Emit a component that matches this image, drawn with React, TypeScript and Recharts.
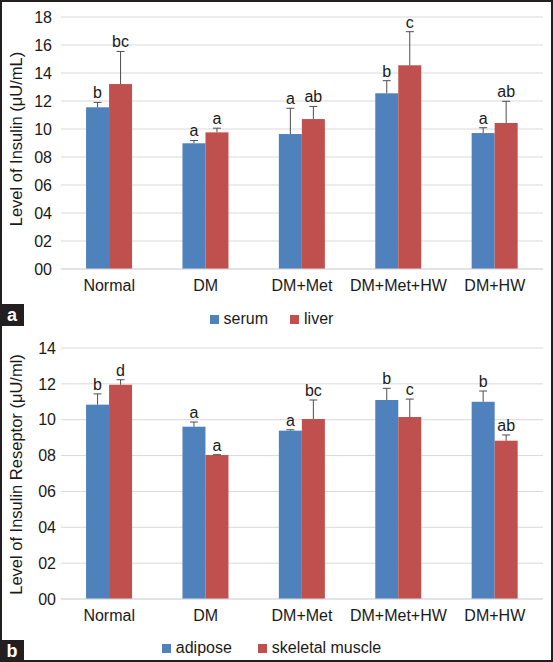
import { BarChart, Bar, XAxis, YAxis, CartesianGrid, Legend, Label } from "recharts";

const groups = ["Normal", "DM", "DM+Met", "DM+Met+HW", "DM+HW"];

// panel a: insulin level
const serum = [11.55, 8.98, 9.64, 12.55, 9.71];
const serumErr = [0.35, 0.2, 1.84, 0.9, 0.38];
const serumSig = ["b", "a", "a", "b", "a"];
const liver = [13.21, 9.76, 10.71, 14.55, 10.43];
const liverErr = [2.33, 0.3, 0.9, 2.4, 1.55];
const liverSig = ["bc", "a", "ab", "c", "ab"];
const insulinTicks = [0, 2, 4, 6, 8, 10, 12, 14, 16, 18];

// panel b: insulin receptor
const adipose = [10.84, 9.61, 9.39, 11.1, 11.0];
const adiposeErr = [0.6, 0.26, 0.05, 0.65, 0.6];
const adiposeSig = ["b", "a", "a", "b", "b"];
const muscle = [11.95, 8.03, 10.04, 10.15, 8.83];
const muscleErr = [0.28, 0.02, 1.06, 1.0, 0.32];
const muscleSig = ["d", "a", "bc", "c", "ab"];
const receptorTicks = [0, 2, 4, 6, 8, 10, 12, 14];

const BLUE = "#4f81bd";
const RED = "#c0504d";
const FONT = '"Liberation Sans", Arial, sans-serif';

type Series = { key: string; name: string; color: string; values: number[]; errs: number[]; sig: string[] };

const insulinSeries: Series[] = [
  { key: "serum", name: "serum", color: BLUE, values: serum, errs: serumErr, sig: serumSig },
  { key: "liver", name: "liver", color: RED, values: liver, errs: liverErr, sig: liverSig },
];
const receptorSeries: Series[] = [
  { key: "adipose", name: "adipose", color: BLUE, values: adipose, errs: adiposeErr, sig: adiposeSig },
  { key: "muscle", name: "skeletal muscle", color: RED, values: muscle, errs: muscleErr, sig: muscleSig },
];

function buildRows(series: Series[]) {
  return groups.map((g, i) => {
    const row: any = { group: g };
    series.forEach((s) => {
      row[s.key] = s.values[i];
      row[s.key + "Err"] = s.errs[i];
      row[s.key + "Sig"] = s.sig[i];
    });
    return row;
  });
}

// bar with an upper-only error whisker and the significance letter (Excel "plus" style)
const barWithError = (key: string) => (props: any) => {
  const { x, y, width, height, fill, payload } = props;
  const v = payload[key];
  const k = v ? height / v : 0;
  const top = y - payload[key + "Err"] * k;
  const cx = x + width / 2;
  return (
    <g>
      <rect x={x} y={y} width={width} height={height} fill={fill} />
      <line x1={cx} x2={cx} y1={y} y2={top} stroke="#4d4d4d" strokeWidth={1} />
      <line x1={cx - 4} x2={cx + 4} y1={top} y2={top} stroke="#4d4d4d" strokeWidth={1} />
      <text x={cx} y={top - 4} textAnchor="middle" fontSize={16} fill="#1a1a1a" fontFamily={FONT}>
        {payload[key + "Sig"]}
      </text>
    </g>
  );
};

type PanelProps = {
  series: Series[];
  ticks: number[];
  yLabel: string;
  labelShift: number;
  top: number;
  height: number;
  marginTop: number;
  legendH: number;
  legendPad: number;
  legendGap: number;
  tickPad: number;
  tag: string;
  tagTop: number;
};

function Panel(p: PanelProps) {
  const rows = buildRows(p.series);
  const yMax = p.ticks[p.ticks.length - 1];
  return (
    <div style={{ position: "absolute", left: 0, top: p.top }}>
      <BarChart
        width={553}
        height={p.height}
        data={rows}
        margin={{ top: p.marginTop, right: 10, left: 0, bottom: 0 }}
        barCategoryGap="26%"
        barGap={0}
      >
        <CartesianGrid vertical={false} stroke="#d9d9d9" />
        <XAxis
          dataKey="group"
          height={30}
          tickLine={false}
          axisLine={{ stroke: "#d9d9d9" }}
          tick={{ fontSize: 16, fill: "#1a1a1a", fontFamily: FONT }}
          tickMargin={5}
          interval={0}
        />
        <YAxis
          width={61}
          domain={[0, yMax]}
          ticks={p.ticks}
          tickFormatter={(v: number) => String(v).padStart(2, "0")}
          tickLine={false}
          axisLine={false}
          tick={{ fontSize: 16, fill: "#1a1a1a", fontFamily: FONT }}
          tickSize={0}
          tickMargin={p.tickPad}
        >
          <Label
            content={({ viewBox }: any) => {
              const cy = viewBox.y + viewBox.height / 2 + p.labelShift;
              return (
                <text
                  x={16}
                  y={cy}
                  transform={`rotate(-90, 16, ${cy})`}
                  textAnchor="middle"
                  dominantBaseline="central"
                  fontSize={16.5}
                  fill="#1a1a1a"
                  fontFamily={FONT}
                >
                  {p.yLabel}
                </text>
              );
            }}
          />
        </YAxis>
        <Legend
          verticalAlign="bottom"
          content={() => (
            <div
              style={{
                height: p.legendH,
                boxSizing: "border-box",
                paddingTop: p.legendPad,
                display: "flex",
                justifyContent: "center",
                gap: p.legendGap,
                fontFamily: FONT,
                fontSize: 16,
                lineHeight: "18px",
                color: "#1a1a1a",
              }}
            >
              {p.series.map((s) => (
                <div key={s.key} style={{ display: "flex", alignItems: "center" }}>
                  <span style={{ width: 9, height: 9, background: s.color, marginRight: 5, display: "inline-block" }} />
                  <span>{s.name}</span>
                </div>
              ))}
            </div>
          )}
        />
        {p.series.map((s) => (
          <Bar
            key={s.key}
            dataKey={s.key}
            name={s.name}
            fill={s.color}
            isAnimationActive={false}
            shape={barWithError(s.key)}
          />
        ))}
      </BarChart>
      <div
        style={{
          position: "absolute",
          left: 0,
          top: p.tagTop,
          width: 24,
          height: 22,
          background: "#231f20",
          color: "#fff",
          fontFamily: FONT,
          fontWeight: "bold",
          fontSize: 18,
          lineHeight: "22px",
          textAlign: "center",
        }}
      >
        {p.tag}
      </div>
    </div>
  );
}

export default function App() {
  return (
    <div style={{ position: "absolute", left: 0, top: 0, width: 553, height: 662, background: "#fff" }}>
      <Panel
        series={insulinSeries}
        ticks={insulinTicks}
        yLabel="Level of Insulin (μU/mL)"
        labelShift={-4}
        top={0}
        height={330}
        marginTop={17}
        legendH={31}
        legendPad={9}
        legendGap={22}
        tickPad={9}
        tag="a"
        tagTop={304}
      />
      <Panel
        series={receptorSeries}
        ticks={receptorTicks}
        yLabel="Level of Insulin Reseptor (μU/ml)"
        labelShift={1}
        top={330}
        height={332}
        marginTop={18}
        legendH={33}
        legendPad={5}
        legendGap={26}
        tickPad={5}
        tag="b"
        tagTop={310}
      />
      <div
        style={{
          position: "absolute",
          inset: 0,
          border: "2px solid #231f20",
          pointerEvents: "none",
        }}
      />
    </div>
  );
}
